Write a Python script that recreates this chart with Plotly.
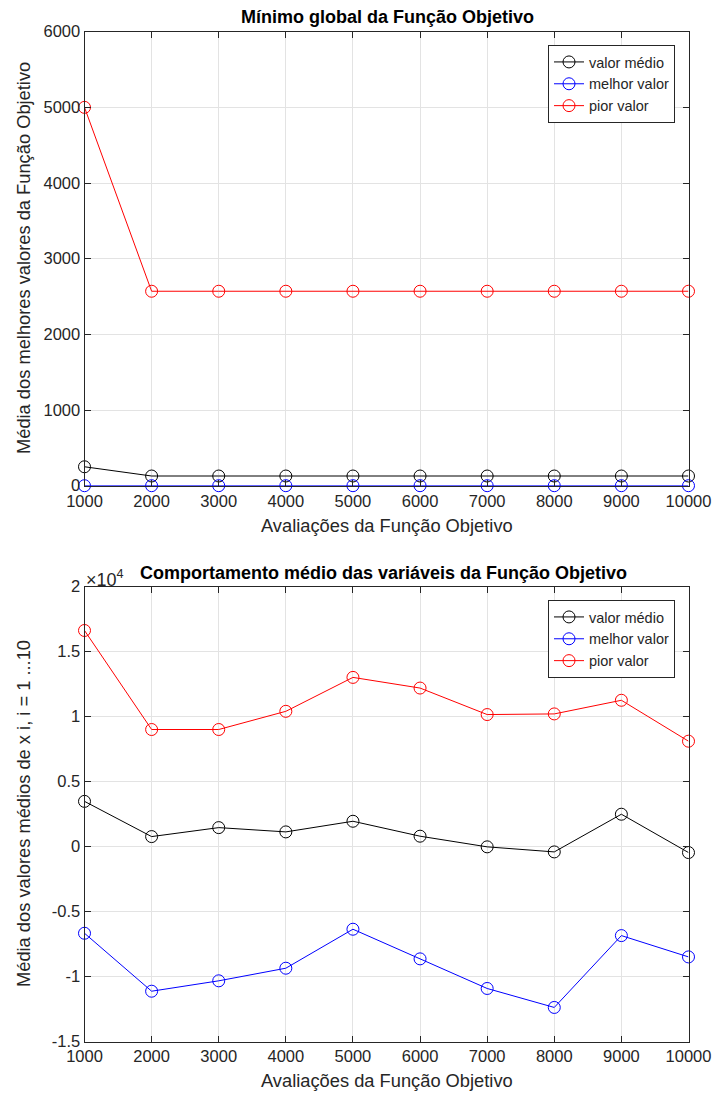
import plotly.graph_objects as go

# Function evaluations (x axis, shared by both panels)
avaliacoes = [1000, 2000, 3000, 4000, 5000, 6000, 7000, 8000, 9000, 10000]
x_labels = ["1000", "2000", "3000", "4000", "5000", "6000", "7000", "8000", "9000", "10000"]

# Panel 1: global minimum of the objective function
min_medio = [250, 128, 128, 128, 128, 128, 128, 128, 128, 128]
min_melhor = [0, 0, 0, 0, 0, 0, 0, 0, 0, 0]
min_pior = [5000, 2570, 2570, 2570, 2570, 2570, 2570, 2570, 2570, 2570]

# Panel 2: average behaviour of the variables x_i
var_medio = [3480, 770, 1460, 1130, 1950, 800, -20, -410, 2490, -460]
var_melhor = [-6670, -11130, -10330, -9360, -6360, -8640, -10920, -12380, -6850, -8490]
var_pior = [16630, 9010, 9010, 10410, 13020, 12200, 10160, 10210, 11260, 8110]

y1_ticks = [0, 1000, 2000, 3000, 4000, 5000, 6000]
y2_ticks = [-15000, -10000, -5000, 0, 5000, 10000, 15000, 20000]
y2_labels = ["-1.5", "-1", "-0.5", "0", "0.5", "1", "1.5", "2"]

W, H = 717, 1093
FONT = "Liberation Sans, Arial, sans-serif"
AX = "#262626"
GRID = "#e3e3e3"

def px_x(p):
    return p / W

def px_y(p):
    return 1 - p / H

series = [("valor médio", "#000000"), ("melhor valor", "#0000ff"), ("pior valor", "#ff0000")]

fig = go.Figure()
for (name, color), ys in zip(series, [min_medio, min_melhor, min_pior]):
    fig.add_trace(go.Scatter(
        x=avaliacoes, y=ys, name=name, mode="lines+markers", cliponaxis=False,
        line=dict(color=color, width=1),
        marker=dict(symbol="circle-open", size=12, color=color, line=dict(width=1)),
        xaxis="x", yaxis="y", legend="legend",
    ))
for (name, color), ys in zip(series, [var_medio, var_melhor, var_pior]):
    fig.add_trace(go.Scatter(
        x=avaliacoes, y=ys, name=name, mode="lines+markers", cliponaxis=False,
        line=dict(color=color, width=1),
        marker=dict(symbol="circle-open", size=12, color=color, line=dict(width=1)),
        xaxis="x2", yaxis="y2", legend="legend2",
    ))

axis_common = dict(
    showline=True, linecolor=AX, linewidth=1, mirror="ticks",
    ticks="inside", ticklen=6, tickcolor=AX, automargin=False,
    showgrid=True, gridcolor=GRID, gridwidth=1, zeroline=False,
    tickfont=dict(family=FONT, size=16.5, color=AX),
)

xd = [px_x(84.5), px_x(688.5)]
legend_common = dict(xanchor="right", yanchor="top",
                     bgcolor="white", bordercolor=AX, borderwidth=1,
                     font=dict(family=FONT, size=14.5, color=AX), tracegroupgap=0)
fig.update_layout(
    width=W, height=H,
    margin=dict(l=0, r=0, t=0, b=0),
    paper_bgcolor="white", plot_bgcolor="white",
    font=dict(family=FONT, color=AX),
    xaxis=dict(domain=xd, range=[1000, 10000], tickvals=avaliacoes, ticktext=x_labels,
               anchor="y", **axis_common),
    yaxis=dict(domain=[px_y(485.7), px_y(31.7)], range=[0, 6000], tickvals=y1_ticks,
               ticktext=[str(v) for v in y1_ticks], anchor="x", **axis_common),
    xaxis2=dict(domain=xd, range=[1000, 10000], tickvals=avaliacoes, ticktext=x_labels,
                anchor="y2", **axis_common),
    yaxis2=dict(domain=[px_y(1041.5), px_y(586.7)], range=[-15000, 20000], tickvals=y2_ticks,
                ticktext=y2_labels, anchor="x2", **axis_common),
    legend=dict(x=px_x(675), y=px_y(45), **legend_common),
    legend2=dict(x=px_x(675), y=px_y(600), **legend_common),
    showlegend=True,
)

ann = dict(xref="paper", yref="paper", showarrow=False)
title_font = dict(family=FONT, size=18, color="#000")
label_font = dict(family=FONT, size=18.3, color=AX)
fig.add_annotation(text="<b>Mínimo global da Função Objetivo</b>", x=px_x(387), y=px_y(17),
                   xanchor="center", yanchor="middle", font=title_font, **ann)
fig.add_annotation(text="<b>Comportamento médio das variáveis da Função Objetivo</b>", x=px_x(383), y=px_y(573),
                   xanchor="center", yanchor="middle", font=title_font, **ann)
fig.add_annotation(text="Avaliações da Função Objetivo", x=px_x(387), y=px_y(525),
                   xanchor="center", yanchor="middle", font=label_font, **ann)
fig.add_annotation(text="Avaliações da Função Objetivo", x=px_x(387), y=px_y(1080),
                   xanchor="center", yanchor="middle", font=label_font, **ann)
fig.add_annotation(text="Média dos melhores valores da Função Objetivo", x=px_x(23), y=px_y(258),
                   textangle=-90, xanchor="center", yanchor="middle", font=label_font, **ann)
fig.add_annotation(text="Média dos valores médios de x i, i = 1 ...10", x=px_x(23), y=px_y(814),
                   textangle=-90, xanchor="center", yanchor="middle", font=label_font, **ann)
fig.add_annotation(text="×10<sup>4</sup>", x=px_x(84), y=px_y(578),
                   xanchor="left", yanchor="middle", font=dict(family=FONT, size=18, color=AX), **ann)

fig.write_html("out.html")
